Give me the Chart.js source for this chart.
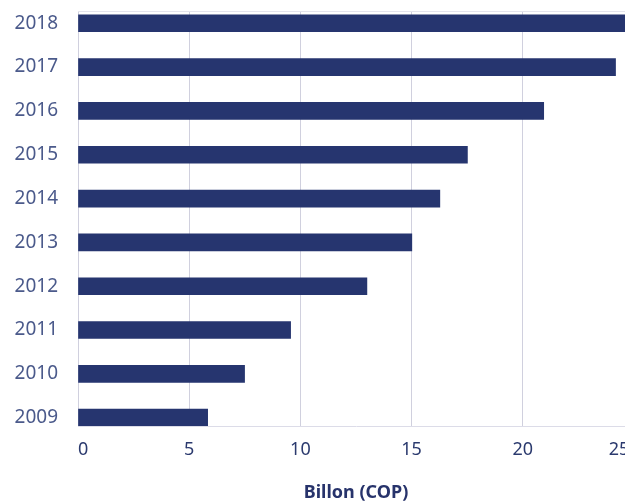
<!DOCTYPE html>
<html>
<head>
<meta charset="utf-8">
<script src="https://cdn.jsdelivr.net/npm/chart.js@4"></script>
<style>
  html, body { margin: 0; padding: 0; overflow: hidden; background: #fff; }
  #wrap { width: 646px; height: 504px; }
</style>
</head>
<body>
<div id="wrap"><canvas id="canvas_bar"></canvas></div>
<script>
// datos
var anos = [2009, 2010, 2011, 2012, 2013, 2014, 2015, 2016, 2017, 2018];
var valores = [5.83, 7.49, 9.56, 12.99, 15.01, 16.27, 17.51, 20.94, 24.17, 25.6];
var ticksX = [0, 5, 10, 15, 20, 25];
var tituloX = "Billon (COP)";

var yMin = 2008.81;
var yMax = 2018.28;

var puntos = [];
for (key in anos) {
  puntos.push({ x: valores[key], y: anos[key] });
}

var ctx = document.getElementById("canvas_bar").getContext("2d");
window.barras = new Chart(ctx, {
  type: "bar",
  data: {
    datasets: [
      {
        data: puntos,
        backgroundColor: "#26356f",
        barThickness: 17,
      },
    ],
  },
  options: {
    indexAxis: "y",
    responsive: true,
    maintainAspectRatio: false,
    animation: false,
    layout: { padding: { top: 11, right: 12, left: 0, bottom: 0 } },
    plugins: {
      legend: { display: false },
      tooltip: { enabled: false },
    },
    scales: {
      x: {
        type: "linear",
        min: 0,
        max: 25,
        afterBuildTicks: function (scale) {
          scale.ticks = ticksX.map(function (v) { return { value: v }; });
        },
        afterFit: function (scale) {
          scale.height = 78;
          scale.paddingLeft = 0;
          scale.paddingRight = 0;
        },
        grid: {
          color: "#d0d0de",
          drawTicks: false,
        },
        border: { color: "#dcdce8" },
        ticks: {
          color: "#2b3a6e",
          padding: 13,
          align: "inner",
          font: { family: "Noto Sans", size: 18 },
          callback: function (value) {
            // el ultimo se corre un poco a la izquierda
            return value === 25 ? value + " " : String(value);
          },
        },
        title: {
          display: true,
          text: tituloX,
          color: "#27336b",
          padding: { top: 15, bottom: 0 },
          font: { family: "Noto Sans", size: 18, weight: "bold" },
        },
      },
      y: {
        type: "linear",
        offset: false,
        min: yMin,
        max: yMax,
        afterBuildTicks: function (scale) {
          var t = anos.map(function (v) { return { value: v }; });
          t.push({ value: yMax });
          scale.ticks = t;
        },
        afterFit: function (scale) {
          scale.width = 78;
          scale.paddingTop = 0;
          scale.paddingBottom = 0;
        },
        grid: {
          offset: false,
          drawTicks: false,
          color: function (c) {
            return c.tick && c.tick.value === yMax ? "#e4e4ec" : "rgba(0,0,0,0)";
          },
        },
        border: { display: false },
        ticks: {
          color: "#4b5a8b",
          padding: 20,
          font: { family: "Noto Sans", size: 19 },
          callback: function (value) {
            return Number.isInteger(value) ? String(value) : "";
          },
        },
      },
    },
  },
});
</script>
</body>
</html>
